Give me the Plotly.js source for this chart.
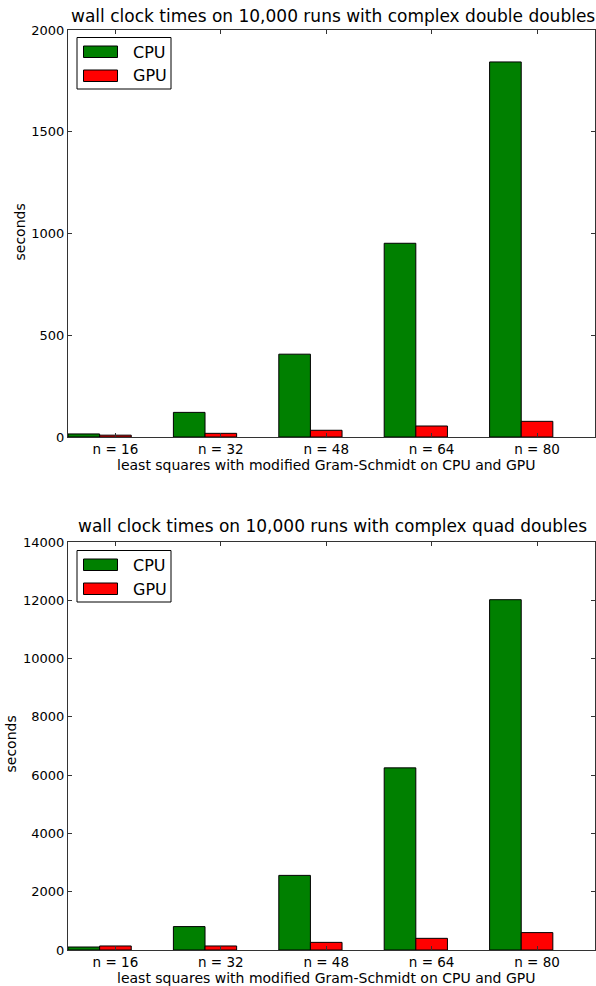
<!DOCTYPE html>
<html>
<head>
<meta charset="utf-8">
<script src="https://cdn.plot.ly/plotly-3.0.1.min.js"></script>
<style>html,body{margin:0;padding:0;background:#fff;}#chart{width:596px;height:986px;}</style>
</head>
<body>
<div id="chart"></div>
<script>
const categories = ["n = 16", "n = 32", "n = 48", "n = 64", "n = 80"];
const cpuDD = [15, 121, 407, 952, 1843];
const gpuDD = [9, 18, 33, 54, 77];
const cpuQD = [103, 803, 2560, 6250, 12020];
const gpuQD = [138, 138, 262, 400, 597];
const yTicksDD = [0, 500, 1000, 1500, 2000];
const yTicksQD = [0, 2000, 4000, 6000, 8000, 10000, 12000, 14000];
const titleDD = "wall clock times on 10,000 runs with complex double doubles";
const titleQD = "wall clock times on 10,000 runs with complex quad doubles";
const xTitle = "least squares with modified Gram-Schmidt on CPU and GPU";
const yTitle = "seconds";

const W = 596, H = 986;
const idx = categories.map((_, i) => i);
const barW = 0.3;
const tickPos = idx.map(i => i + 1.5 * barW);
const font = "DejaVu Sans, sans-serif";

function bar(vals, color, offset, xa, ya, name) {
  return {
    type: "bar", x: idx, y: vals, width: barW, offset: offset,
    marker: {color: color, line: {color: "#000", width: 1}},
    xaxis: xa, yaxis: ya, name: name, showlegend: false, hoverinfo: "y"
  };
}

const data = [
  bar(cpuDD, "#008000", 0, "x", "y", "CPU"),
  bar(gpuDD, "#ff0000", barW, "x", "y", "GPU"),
  bar(cpuQD, "#008000", 0, "x2", "y2", "CPU"),
  bar(gpuQD, "#ff0000", barW, "x2", "y2", "GPU")
];

const px = v => v / W;
const py = v => 1 - v / H;

function xaxis(anchor, domain) {
  return {
    domain: domain, anchor: anchor, range: [0, 5],
    tickvals: tickPos, ticktext: categories, ticks: "inside", ticklen: 4,
    tickcolor: "#333", showline: true, linecolor: "#333", linewidth: 1,
    mirror: "ticks", showgrid: false, zeroline: false,
    tickfont: {family: font, size: 13.5, color: "#000"}, fixedrange: true
  };
}
function yaxis(anchor, domain, range, ticks) {
  return {
    domain: domain, anchor: anchor, range: range, tickvals: ticks,
    ticktext: ticks.map(String), ticks: "inside", ticklen: 4,
    tickcolor: "#333", showline: true, linecolor: "#333", linewidth: 1,
    mirror: "ticks", showgrid: false, zeroline: false,
    tickfont: {family: font, size: 13, color: "#000"}, fixedrange: true
  };
}

const xDom = [px(68), px(595)];
const topDom = [py(437), py(30)];
const botDom = [py(950), py(542)];

function ann(text, x, y, size, extra) {
  return Object.assign({
    text: text, x: px(x), y: py(y), xref: "paper", yref: "paper",
    showarrow: false, font: {family: font, size: size, color: "#000"},
    xanchor: "center", yanchor: "middle"
  }, extra || {});
}

const annotations = [
  ann(titleDD, 332.5, 16, 17),
  ann(xTitle, 326, 465, 14),
  ann(yTitle, 20, 232.5, 14, {textangle: -90}),
  ann(titleQD, 332.5, 526, 17),
  ann(xTitle, 326, 978, 14),
  ann(yTitle, 10, 744.5, 14, {textangle: -90})
];

const shapes = [];
function legend(top) {
  shapes.push({type: "rect", xref: "paper", yref: "paper",
    x0: px(77), x1: px(171), y0: py(top), y1: py(top + 51.5),
    line: {color: "#000", width: 1}, fillcolor: "#fff"});
  const items = [["CPU", "#008000", top + 8.5], ["GPU", "#ff0000", top + 32.5]];
  items.forEach(([label, color, y0]) => {
    shapes.push({type: "rect", xref: "paper", yref: "paper",
      x0: px(83.5), x1: px(117.5), y0: py(y0), y1: py(y0 + 11.5),
      line: {color: "#000", width: 1}, fillcolor: color});
    annotations.push(ann(label, 131, y0 + 6, 16, {xanchor: "left"}));
  });
}
legend(37.5);
legend(550.5);

const layout = {
  width: W, height: H,
  margin: {l: 0, r: 0, t: 0, b: 0},
  paper_bgcolor: "#fff", plot_bgcolor: "#fff",
  showlegend: false, bargap: 0,
  xaxis: xaxis("y", xDom),
  yaxis: yaxis("x", topDom, [0, 2000], yTicksDD),
  xaxis2: xaxis("y2", xDom),
  yaxis2: yaxis("x2", botDom, [0, 14000], yTicksQD),
  annotations: annotations,
  shapes: shapes
};

Plotly.newPlot("chart", data, layout, {displayModeBar: false, staticPlot: true});
</script>
</body>
</html>
